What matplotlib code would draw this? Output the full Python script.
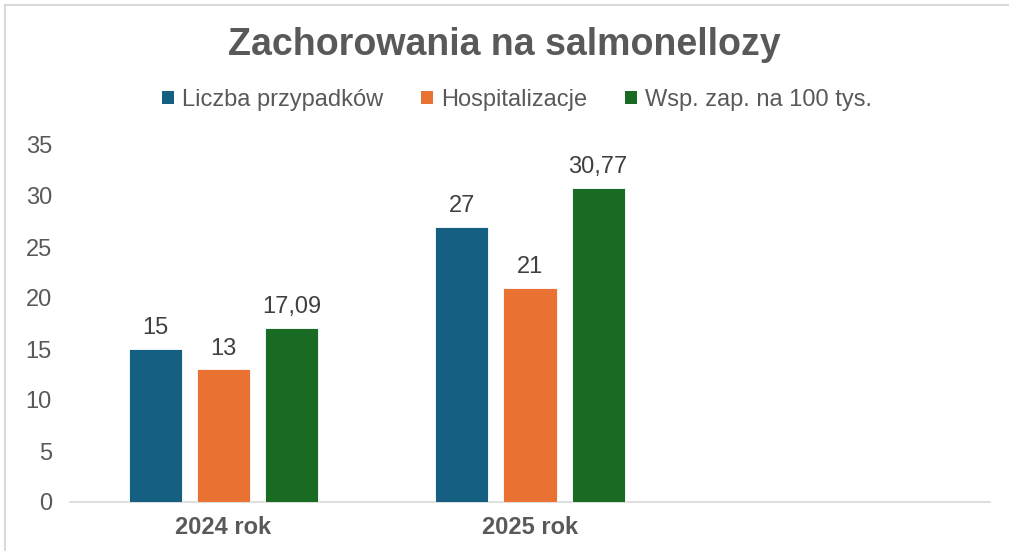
import matplotlib
matplotlib.use("Agg")
import matplotlib.pyplot as plt
from matplotlib.lines import Line2D
from matplotlib.patches import Patch
import numpy as np

categories = ["2024 rok", "2025 rok", ""]
series_names = ["Liczba przypadków", "Hospitalizacje", "Wsp. zap. na 100 tys."]
liczba = [15, 27, None]
hosp = [13, 21, None]
wsp = [17.09, 30.77, None]
labels_liczba = ["15", "27"]
labels_hosp = ["13", "21"]
labels_wsp = ["17,09", "30,77"]
yticks = [0, 5, 10, 15, 20, 25, 30, 35]
colors = ["#156082", "#E97132", "#196B24"]

plt.rcParams['font.family'] = ['Liberation Sans', 'DejaVu Sans']

W, H = 1009, 551
fig = plt.figure(figsize=(W / 100, H / 100), dpi=100)
ax = fig.add_axes([70 / W, 49 / H, 920 / W, 357 / H])

bw = 0.173
step = 0.222
all_series = [liczba, hosp, wsp]
all_labels = [labels_liczba, labels_hosp, labels_wsp]
for i, (vals, labs, col) in enumerate(zip(all_series, all_labels, colors)):
    xs = [j + (i - 1) * step for j, v in enumerate(vals) if v is not None]
    vs = [v for v in vals if v is not None]
    bars = ax.bar(xs, vs, width=bw, color=col, edgecolor="white", linewidth=0.6, zorder=3)
    for b, t in zip(bars, labs):
        ax.annotate(t, (b.get_x() + b.get_width() / 2, b.get_height()),
                    xytext=(0, 7), textcoords="offset points", ha="center", va="bottom",
                    fontsize=17, color="#404040")

ax.set_xlim(-0.5, 2.5)
ax.set_ylim(0, 35)
ax.set_yticks(yticks)
ax.set_yticklabels([str(t) for t in yticks], fontsize=17, color="#595959")
ax.set_xticks(range(len(categories)))
ax.set_xticklabels(categories, fontsize=17, fontweight="bold", color="#595959")
ax.tick_params(axis="both", length=0)
ax.tick_params(axis="y", pad=13)
ax.tick_params(axis="x", pad=10)
for s in ["top", "right", "left"]:
    ax.spines[s].set_visible(False)
ax.spines["bottom"].set_color("#D9D9D9")
ax.spines["bottom"].set_linewidth(1.2)

fig.text(0.5, 1 - 45 / H, "Zachorowania na salmonellozy", ha="center", va="center",
         fontsize=27, fontweight="bold", color="#595959")

handles = [Patch(facecolor=c, edgecolor="none") for c in colors]
fig.legend(handles, series_names, loc="center", bbox_to_anchor=(517 / W, 1 - 100 / H),
           ncol=3, frameon=False, fontsize=17, labelcolor="#595959",
           handlelength=0.5, handleheight=0.5, handletextpad=0.35, columnspacing=1.6)

# chart frame (top and left border)
fig.add_artist(Line2D([5 / W, 5 / W], [0, 1 - 5 / H], transform=fig.transFigure, color="#D9D9D9", lw=1.5))
fig.add_artist(Line2D([5 / W, 1], [1 - 5 / H, 1 - 5 / H], transform=fig.transFigure, color="#D9D9D9", lw=1.5))

fig.savefig("out.png", dpi=100, facecolor="white")
